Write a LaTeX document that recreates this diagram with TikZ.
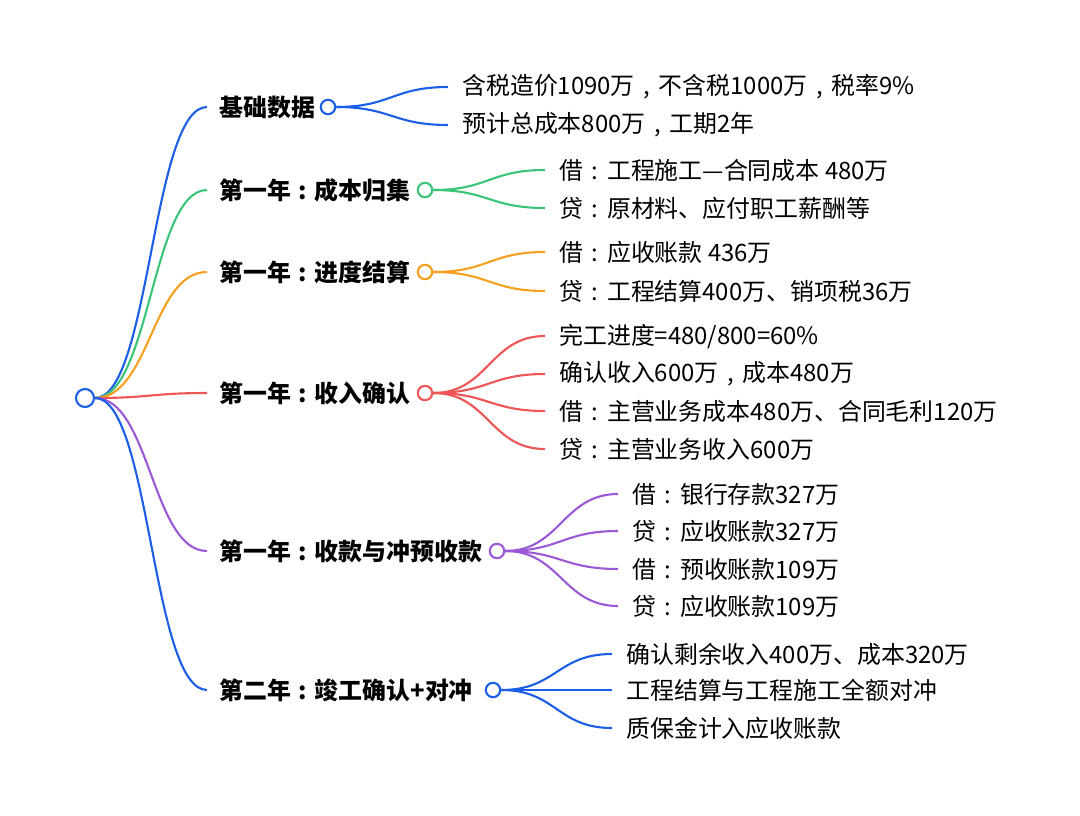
\documentclass[tikz,border=0pt]{standalone}
\usepackage{fontspec}
\setmainfont{Noto Sans CJK SC}
\usepackage{xcolor}
\usetikzlibrary{positioning}

\definecolor{mblue}{RGB}{28,95,230}
\definecolor{mgreen}{RGB}{60,196,120}
\definecolor{morange}{RGB}{245,160,30}
\definecolor{mred}{RGB}{238,85,85}
\definecolor{mpurple}{RGB}{155,89,214}

% centred full-width punctuation
\newcommand{\fcolon}{\makebox[1em][c]{:}}
\newcommand{\fcomma}{\makebox[1em][c]{,}}

\begin{document}
\begin{tikzpicture}[x=0.025cm, y=-0.025cm,
  hub/.style={draw=#1, circle, line width=1.5pt, fill=white, minimum size=0.36cm, inner sep=0},
  topic/.style={anchor=west, font=\fontsize{17}{20}\selectfont\bfseries, inner xsep=0.3cm, inner ysep=0},
  leaf/.style={anchor=west, font=\fontsize{17}{20}\selectfont, inner xsep=0.35cm, inner ysep=0},
  link/.style={line width=1.5pt}]
\useasboundingbox (0,0) rectangle (1080,816);

% Root
\node[hub=mblue, minimum size=0.45cm] (root) at (85,398) {};

% Topics
\node[topic] (b1) at (207,107) {基础数据};
\node[topic] (b2) at (207,190) {第一年\fcolon 成本归集};
\node[topic] (b3) at (207,272) {第一年\fcolon 进度结算};
\node[topic] (b4) at (207,393) {第一年\fcolon 收入确认};
\node[topic] (b5) at (207,551) {第一年\fcolon 收款与冲预收款};
\node[topic] (b6) at (207,690) {第二年\fcolon 竣工确认+对冲};

\draw[link, mblue] (root.east) .. controls +(55,0) and +(-55,0) .. (b1.west);
\draw[link, mgreen] (root.east) .. controls +(55,0) and +(-55,0) .. (b2.west);
\draw[link, morange] (root.east) .. controls +(55,0) and +(-55,0) .. (b3.west);
\draw[link, mred] (root.east) .. controls +(55,0) and +(-55,0) .. (b4.west);
\draw[link, mpurple] (root.east) .. controls +(55,0) and +(-55,0) .. (b5.west);
\draw[link, mblue] (root.east) .. controls +(55,0) and +(-55,0) .. (b6.west);

% Topic hubs
\node[hub=mblue] (c1) at (328,107) {};
\node[hub=mgreen] (c2) at (425,190) {};
\node[hub=morange] (c3) at (425,272) {};
\node[hub=mred] (c4) at (425,393) {};
\node[hub=mpurple] (c5) at (497,551) {};
\node[hub=mblue] (c6) at (493,690) {};

% Basic data
\node[leaf] (l11) at (448,87) {含税造价1090万\fcomma 不含税1000万\fcomma 税率9\%};
\node[leaf] (l12) at (448,125) {预计总成本800万\fcomma 工期2年};
\foreach \n in {l11,l12}
  \draw[link, mblue] (c1.east) .. controls +(55,0) and +(-55,0) .. (\n.west);

% Cost
\node[leaf] (l21) at (545,170) {借\fcolon 工程施工—合同成本 480万};
\node[leaf] (l22) at (545,208) {贷\fcolon 原材料、应付职工薪酬等};
\foreach \n in {l21,l22}
  \draw[link, mgreen] (c2.east) .. controls +(55,0) and +(-55,0) .. (\n.west);

% Billing
\node[leaf] (l31) at (545,252) {借\fcolon 应收账款 436万};
\node[leaf] (l32) at (545,291) {贷\fcolon 工程结算400万、销项税36万};
\foreach \n in {l31,l32}
  \draw[link, morange] (c3.east) .. controls +(55,0) and +(-55,0) .. (\n.west);

% Revenue
\node[leaf] (l41) at (545,336) {完工进度=480/800=60\%};
\node[leaf] (l42) at (545,374) {确认收入600万\fcomma 成本480万};
\node[leaf] (l43) at (545,411) {借\fcolon 主营业务成本480万、合同毛利120万};
\node[leaf] (l44) at (545,449) {贷\fcolon 主营业务收入600万};
\foreach \n in {l41,l42,l43,l44}
  \draw[link, mred] (c4.east) .. controls +(55,0) and +(-55,0) .. (\n.west);

% Collection
\node[leaf] (l51) at (618,494) {借\fcolon 银行存款327万};
\node[leaf] (l52) at (618,531) {贷\fcolon 应收账款327万};
\node[leaf] (l53) at (618,569) {借\fcolon 预收账款109万};
\node[leaf] (l54) at (618,606) {贷\fcolon 应收账款109万};
\foreach \n in {l51,l52,l53,l54}
  \draw[link, mpurple] (c5.east) .. controls +(55,0) and +(-55,0) .. (\n.west);

% Year two
\node[leaf] (l61) at (612,654) {确认剩余收入400万、成本320万};
\node[leaf] (l62) at (612,690) {工程结算与工程施工全额对冲};
\node[leaf] (l63) at (612,728) {质保金计入应收账款};
\foreach \n in {l61,l62,l63}
  \draw[link, mblue] (c6.east) .. controls +(55,0) and +(-55,0) .. (\n.west);
\end{tikzpicture}
\end{document}
